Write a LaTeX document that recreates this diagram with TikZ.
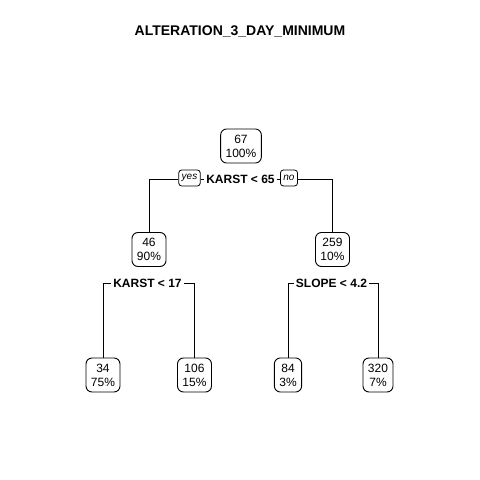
\documentclass[tikz,border=0pt]{standalone}
\usepackage{fontspec}
\setmainfont{Liberation Sans}

\begin{document}
\begin{tikzpicture}[x=1pt,y=-1pt,
	box/.style = {draw, rounded corners=6pt, line width=0.9pt, align=center,
		inner xsep=5pt, inner ysep=0pt, minimum height=34pt,
		font=\fontsize{12}{14}\selectfont},
	split/.style = {inner xsep=2pt, inner ysep=1pt,
		font=\fontsize{12}{14}\selectfont\bfseries},
	tag/.style = {draw, rounded corners=3pt, line width=0.8pt,
		inner xsep=3pt, inner ysep=1pt, minimum height=16pt,
		font=\fontsize{10}{12}\selectfont\itshape},
	edge/.style = {line width=1pt}]
	\useasboundingbox (0,0) rectangle (480,480);
	\node[font=\fontsize{14}{16}\selectfont\bfseries] (title) at (240,31) {ALTERATION\_3\_DAY\_MINIMUM};
	% root
	\node[box] (n67) at (241,146) {67\\100\%};
	\node[split] (s1) at (240.5,179) {KARST < 65};
	\node[tag] (yes) at (189.5,178) {yes};
	\node[tag] (no) at (289,178) {no};
	% second row
	\node[box] (n46) at (149,249.5) {46\\90\%};
	\node[box] (n259) at (332.5,249.5) {259\\10\%};
	\node[split] (s2) at (147.5,283) {KARST < 17};
	\node[split] (s3) at (331.5,283) {SLOPE < 4.2};
	% leaves
	\node[box] (n34) at (103,375) {34\\75\%};
	\node[box] (n106) at (194.5,375) {106\\15\%};
	\node[box] (n84) at (288,375) {84\\3\%};
	\node[box] (n320) at (378,375) {320\\7\%};
	\draw[edge] (yes.west |- s1) -| (n46);
	\draw[edge] (yes.east |- s1) -- (s1.west);
	\draw[edge] (s1.east) -- (no.west |- s1);
	\draw[edge] (no.east |- s1) -| (n259);
	\draw[edge] (s2.west) -| (n34);
	\draw[edge] (s2.east) -| (n106);
	\draw[edge] (s3.west) -| (n84);
	\draw[edge] (s3.east) -| (n320);
\end{tikzpicture}
\end{document}
